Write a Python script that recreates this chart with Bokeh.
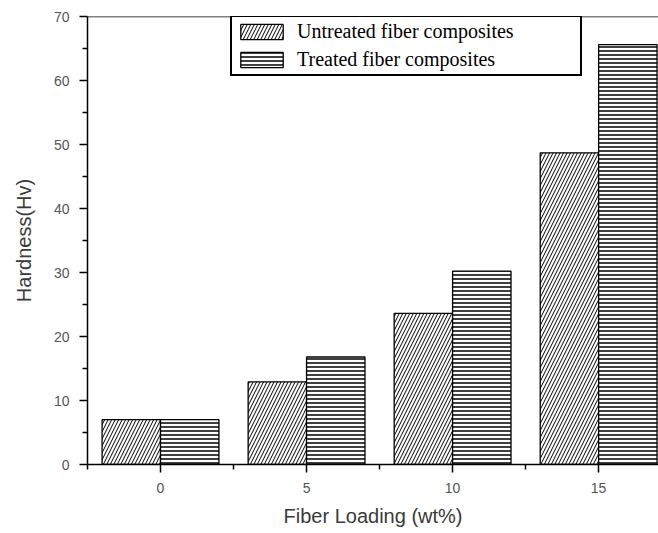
from bokeh.plotting import figure
from bokeh.models import (ColumnDataSource, FixedTicker, Span, Range1d,
                          Legend, LegendItem)
from bokeh.transform import dodge
from bokeh.embed import file_html
from bokeh.resources import INLINE

# ---- data -------------------------------------------------------------
fiber_loading = [0, 5, 10, 15]              # wt%
untreated = [7.0, 12.9, 23.6, 48.7]         # Hardness (Hv)
treated = [7.0, 16.8, 30.2, 65.6]           # Hardness (Hv)
x_major_ticks = [0, 5, 10, 15]
x_minor_ticks = [-2.5, 2.5, 7.5, 12.5]
y_major_ticks = [0, 10, 20, 30, 40, 50, 60, 70]
y_minor_ticks = [5, 15, 25, 35, 45, 55, 65]

src = ColumnDataSource(dict(loading=fiber_loading, untreated=untreated,
                            treated=treated))

p = figure(width=658, height=533, output_backend="svg", toolbar_location=None,
           x_range=Range1d(-2.5, 17.05), y_range=Range1d(0, 70),
           min_border_left=87, min_border_right=0, min_border_top=16,
           min_border_bottom=69)
p.outline_line_color = None
p.xgrid.visible = False
p.ygrid.visible = False
p.background_fill_color = "white"
p.border_fill_color = "white"

r1 = p.vbar(x=dodge("loading", -1, range=p.x_range), top="untreated", width=2,
            source=src, fill_color="white", line_color="black", line_width=1.3,
            hatch_pattern="/", hatch_scale=7, hatch_weight=1, hatch_color="black")
r2 = p.vbar(x=dodge("loading", 1, range=p.x_range), top="treated", width=2,
            source=src, fill_color="white", line_color="black", line_width=1.3,
            hatch_pattern="-", hatch_scale=4, hatch_weight=1.5, hatch_color="black")

p.add_layout(Span(location=70, dimension="width", line_color="black",
                  line_width=1.5))

for ax in (p.xaxis, p.yaxis):
    ax.axis_line_color = "black"
    ax.axis_line_width = 1.5
    ax.major_tick_line_color = "black"
    ax.major_tick_line_width = 1.5
    ax.minor_tick_line_color = "black"
    ax.minor_tick_line_width = 1.5
    ax.major_tick_in = 0
    ax.major_tick_out = 8
    ax.minor_tick_in = 0
    ax.minor_tick_out = 5
    ax.major_label_text_font = "Liberation Sans"
    ax.major_label_text_font_size = "14px"
    ax.major_label_text_color = "#555555"
    ax.axis_label_text_font = "Liberation Sans"
    ax.axis_label_text_font_size = "20px"
    ax.axis_label_text_font_style = "normal"
    ax.axis_label_text_color = "#3a3a3a"

p.xaxis.ticker = FixedTicker(ticks=x_major_ticks, minor_ticks=x_minor_ticks)
p.yaxis.ticker = FixedTicker(ticks=y_major_ticks, minor_ticks=y_minor_ticks)
p.xaxis.axis_label = "Fiber Loading (wt%)"
p.yaxis.axis_label = "Hardness(Hv)"
p.xaxis.major_label_standoff = 10
p.yaxis.major_label_standoff = 10
p.xaxis.axis_label_standoff = 9
p.yaxis.axis_label_standoff = 16

legend = Legend(items=[LegendItem(label="Untreated fiber composites", renderers=[r1]),
                       LegendItem(label="Treated fiber composites", renderers=[r2])],
                location=(143, 388), orientation="vertical")
legend.label_text_font = "Liberation Serif"
legend.label_text_font_size = "20px"
legend.label_text_color = "black"
legend.border_line_color = "black"
legend.border_line_alpha = 1.0
legend.border_line_width = 2.5
legend.background_fill_color = "white"
legend.background_fill_alpha = 1
legend.padding = 3
legend.spacing = 5
legend.margin = 0
legend.glyph_width = 53
legend.glyph_height = 19
legend.label_standoff = 9
legend.label_width = 280
legend.label_height = 21
p.add_layout(legend)

open("out.html", "w").write(file_html(p, INLINE))
